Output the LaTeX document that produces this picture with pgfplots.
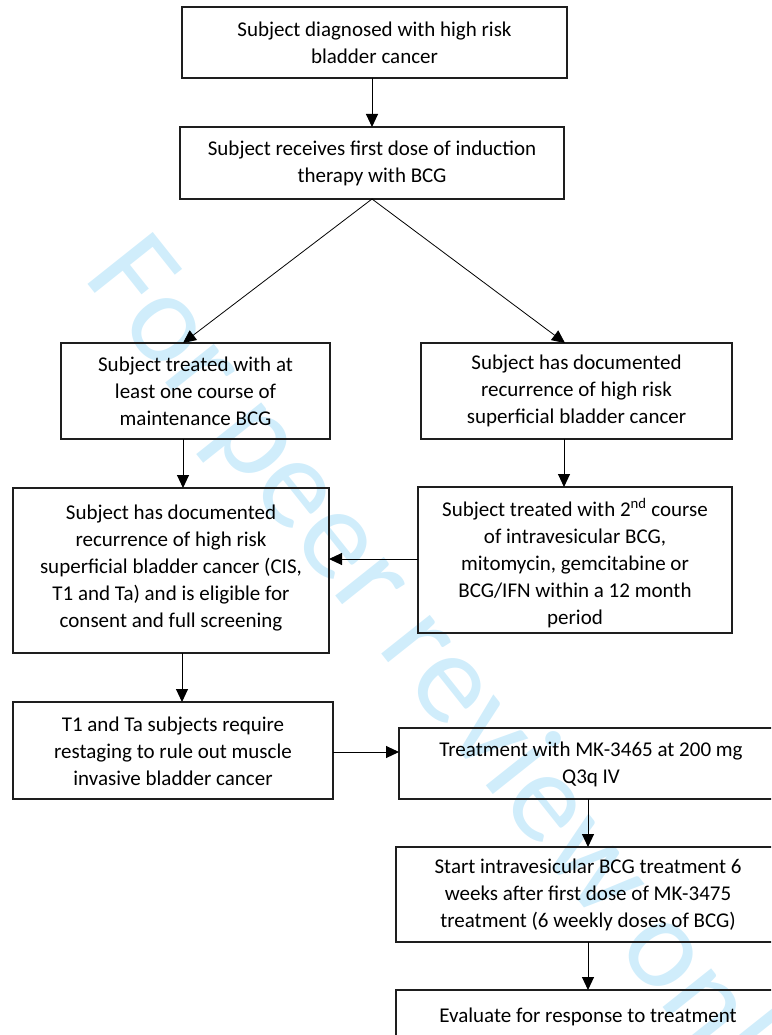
\documentclass[border=0pt]{standalone}
\usepackage{fontspec}
\setmainfont{Carlito}
\usepackage{pgfplots}
\pgfplotsset{compat=1.18}
\usetikzlibrary{arrows.meta}
\definecolor{wm}{RGB}{208,237,251}
\definecolor{boxc}{RGB}{30,30,30}
\newcommand{\bfnt}{\fontsize{21}{27}\selectfont}
\begin{document}
\begin{tikzpicture}
\useasboundingbox (0,0) rectangle (771pt,1035pt);
\begin{axis}[
  at={(0,0)}, anchor=south west,
  width=771pt, height=1035pt, scale only axis,
  xmin=0, xmax=771, ymin=0, ymax=1035, y dir=reverse,
  hide axis, clip=true, no marks,
  boxline/.style={draw=boxc, line width=1.3pt, line cap=rect, line join=miter},
  arr/.style={black, line width=1.0pt, -{Triangle[length=13pt,width=12pt]}},
  darr/.style={black, line width=0.8pt, -{Triangle[length=13pt,width=12pt]}},
]
% watermark
\node[anchor=base west, rotate=-51.5, text=wm, inner sep=0pt,
      font=\fontsize{130}{130}\selectfont] at (axis cs:82,277) {For peer review only};

% boxes
\addplot[boxline] coordinates {(182,7) (567,7) (567,78) (182,78) (182,7)};
\addplot[boxline] coordinates {(180,127) (564,127) (564,199) (180,199) (180,127)};
\addplot[boxline] coordinates {(61,343) (330,343) (330,439) (61,439) (61,343)};
\addplot[boxline] coordinates {(421,343) (732,343) (732,439) (421,439) (421,343)};
\addplot[boxline] coordinates {(13,488) (329,488) (329,653) (13,653) (13,488)};
\addplot[boxline] coordinates {(418,487) (732,487) (732,633) (418,633) (418,487)};
\addplot[boxline] coordinates {(13,702) (333,702) (333,799) (13,799) (13,702)};
\addplot[boxline] coordinates {(399,728) (781,728) (781,799) (399,799) (399,728)};
\addplot[boxline] coordinates {(396,847) (781,847) (781,942) (396,942) (396,847)};
\addplot[boxline] coordinates {(396,990) (781,990) (781,1060) (396,1060) (396,990)};

% arrows
\addplot[arr] coordinates {(372,78) (372,127)};
\addplot[darr] coordinates {(372,199) (183,343)};
\addplot[darr] coordinates {(372,199) (565,343)};
\addplot[arr] coordinates {(183,439) (183,488)};
\addplot[arr] coordinates {(564,439) (564,487)};
\addplot[arr] coordinates {(418,559) (329,559)};
\addplot[arr] coordinates {(182,653) (182,702)};
\addplot[arr] coordinates {(333,752) (399,752)};
\addplot[arr] coordinates {(588,799) (588,847)};
\addplot[arr] coordinates {(588,942) (588,990)};

% texts
\node[align=center, font=\bfnt, inner sep=0pt] at (axis cs:374.5,43) {Subject diagnosed with high risk\\bladder cancer};
\node[align=center, font=\bfnt, inner sep=0pt] at (axis cs:372,163) {Subject receives first dose of induction\\therapy with BCG};
\node[align=center, font=\bfnt, inner sep=0pt] at (axis cs:195.5,391) {Subject treated with at\\least one course of\\maintenance BCG};
\node[align=center, font=\bfnt, inner sep=0pt] at (axis cs:576.5,391) {Subject has documented\\recurrence of high risk\\superficial bladder cancer};
\node[align=center, font=\bfnt, inner sep=0pt] at (axis cs:171,568) {Subject has documented\\recurrence of high risk\\superficial bladder cancer (CIS,\\T1 and Ta) and is eligible for\\consent and full screening};
\node[align=center, font=\bfnt, inner sep=0pt] at (axis cs:575,563) {Subject treated with 2\textsuperscript{nd} course\\of intravesicular BCG,\\mitomycin, gemcitabine or\\BCG/IFN within a 12 month\\period};
\node[align=center, font=\bfnt, inner sep=0pt] at (axis cs:173,751) {T1 and Ta subjects require\\restaging to rule out muscle\\invasive bladder cancer};
\node[align=center, font=\bfnt, inner sep=0pt] at (axis cs:591,764) {Treatment with MK-3465 at 200 mg\\Q3q IV};
\node[align=center, font=\bfnt, inner sep=0pt] at (axis cs:588,895) {Start intravesicular BCG treatment 6\\weeks after first dose of MK-3475\\treatment (6 weekly doses of BCG)};
\node[align=center, font=\bfnt, inner sep=0pt] at (axis cs:588,1017) {Evaluate for response to treatment};
\end{axis}
\end{tikzpicture}
\end{document}
